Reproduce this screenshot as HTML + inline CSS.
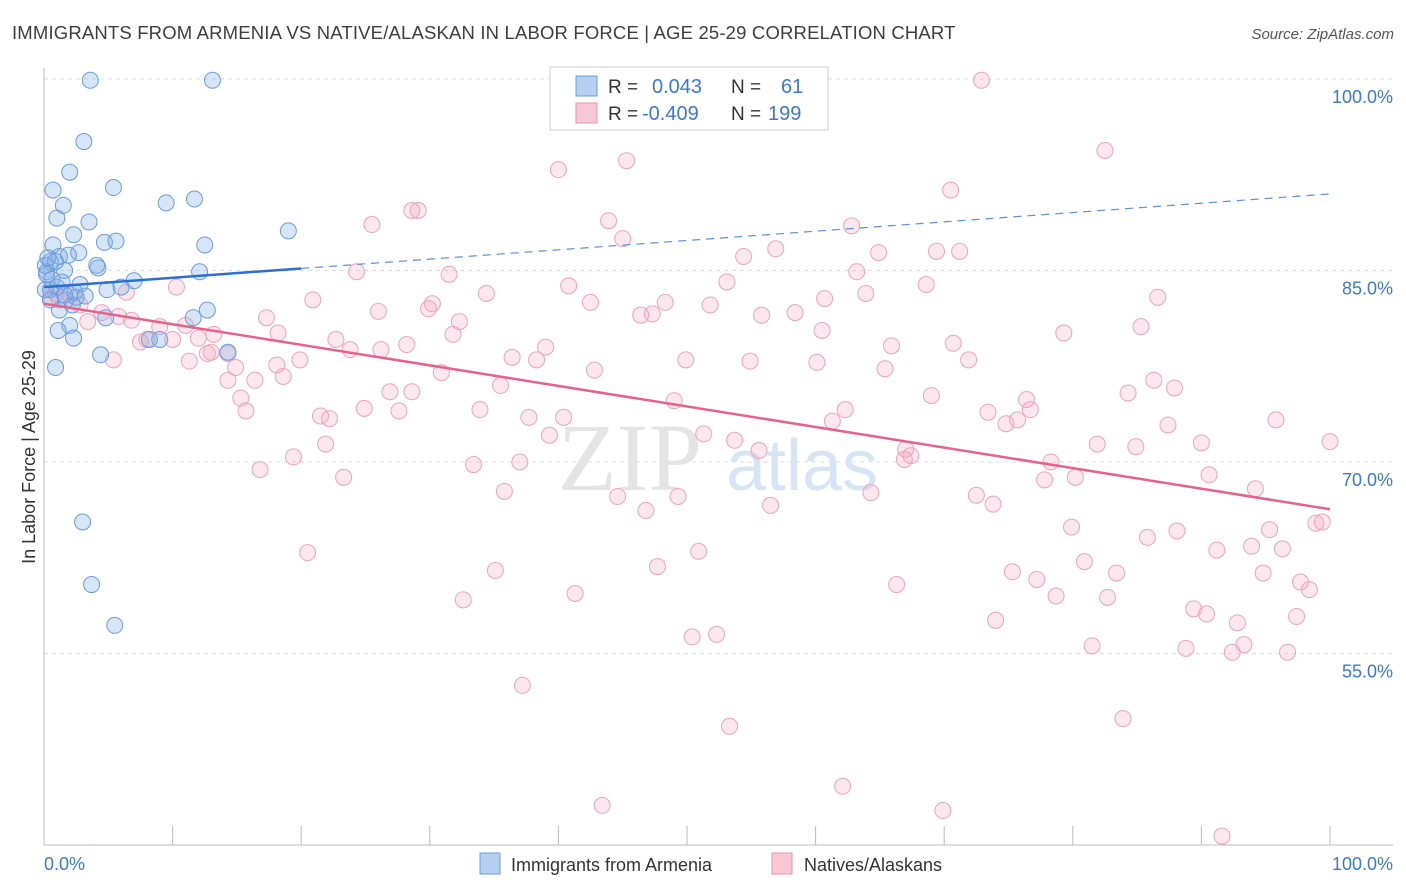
<!DOCTYPE html>
<html><head><meta charset="utf-8">
<style>
body{margin:0;background:#fff;font-family:"Liberation Sans",sans-serif;}
#wrap{position:relative;width:1406px;height:892px;overflow:hidden;}
</style></head>
<body>
<div id="wrap">
<svg id="svg" width="1406" height="892" xmlns="http://www.w3.org/2000/svg">
<text x="12" y="39" font-size="18.5" letter-spacing="0.17" fill="#3d3d3d">IMMIGRANTS FROM ARMENIA VS NATIVE/ALASKAN IN LABOR FORCE | AGE 25-29 CORRELATION CHART</text>
<text x="1394" y="39" font-size="15" fill="#555" font-style="italic" text-anchor="end">Source: ZipAtlas.com</text>
<g id="grid"></g>
<text x="630" y="490" font-family="Liberation Serif,serif" font-size="96" fill="#e4e4e4" text-anchor="middle">ZIP</text>
<text x="802" y="490" font-size="72" fill="#d6e5f6" text-anchor="middle">atlas</text>
<g id="pts"></g>
<g id="trends"></g>
<text transform="translate(35,457) rotate(-90)" font-size="18" fill="#333" text-anchor="middle">In Labor Force | Age 25-29</text>
<g>
<rect x="550" y="67" width="278" height="63" fill="#fff" stroke="#ccc"/>
<rect x="576" y="76" width="21" height="20" fill="#b7d0f2" stroke="#6a9be0"/>
<rect x="576" y="103" width="21" height="20" fill="#f8c7d6" stroke="#e890aa"/>
<text x="608" y="93" font-size="19" fill="#333">R =</text>
<text x="652" y="93" font-size="20" fill="#3a78d8">0.043</text>
<text x="731" y="93" font-size="19" fill="#333">N =</text>
<text x="781" y="93" font-size="20" fill="#3a78d8">61</text>
<text x="608" y="120" font-size="19" fill="#333">R =</text>
<text x="642" y="120" font-size="20" fill="#3a78d8">-0.409</text>
<text x="731" y="120" font-size="19" fill="#333">N =</text>
<text x="768" y="120" font-size="20" fill="#3a78d8">199</text>
</g>
<g>
<rect x="480" y="853" width="20" height="21" fill="#b7d0f2" stroke="#6a9be0"/>
<text x="511" y="871" font-size="18" fill="#333">Immigrants from Armenia</text>
<rect x="772" y="853" width="20" height="21" fill="#f8c7d6" stroke="#e890aa"/>
<text x="804" y="871" font-size="18" fill="#333">Natives/Alaskans</text>
</g>
</svg>
</div>
<script>
const yTicks=[100,85,70,55];
const yTickLabels=["100.0%","85.0%","70.0%","55.0%"];
const xTicks=[0,10,20,30,40,50,60,70,80,90,100];
const xTickLabels=["0.0%","100.0%"];
const blueX=[3.6,13.1,3.1,2.0,0.7,5.4,9.5,11.7,1.5,1.0,3.5,2.3,4.7,5.6,12.5,19.0,0.7,2.7,1.2,0.5,1.6,4.2,12.1,4.1,0.2,7.0,2.8,1.0,4.9,6.0,0.5,2.5,1.7,2.2,1.2,12.7,4.8,11.6,2.0,1.1,2.3,9.0,14.3,4.4,0.9,3.0,3.7,5.5,0.2,0.6,0.1,0.3,0.9,1.9,0.5,1.4,2.4,3.2,1.6,8.2,0.1];
const blueY=[99.9,99.9,95.1,92.7,91.3,91.5,90.3,90.6,90.1,89.1,88.8,87.8,87.2,87.3,87.0,88.1,87.0,86.4,86.1,85.7,85.0,85.2,84.9,85.4,84.9,84.2,83.9,83.7,83.5,83.7,83.5,82.9,82.7,82.3,81.9,81.9,81.3,81.3,80.7,80.3,79.7,79.6,78.6,78.4,77.4,65.3,60.4,57.2,84.7,84.3,85.4,86.0,85.7,86.2,82.7,84.1,83.3,83.0,83.1,79.6,83.5];
const pinkX=[45.8,59.0,60.3,72.9,82.5,45.3,40.0,70.5,29.1,28.6,43.9,25.5,62.8,45.0,56.9,54.4,69.4,71.2,64.9,63.2,24.3,31.5,53.1,40.8,34.4,63.9,10.3,6.4,68.6,86.6,20.9,48.3,60.7,42.5,30.2,29.9,26.0,51.8,46.4,47.3,55.8,58.4,17.3,32.3,6.8,3.4,5.8,4.5,85.3,79.3,18.2,31.8,9.0,11.0,13.2,60.5,7.5,8.0,10.0,12.0,22.7,28.2,39.0,23.8,26.2,70.7,65.9,14.3,12.7,13.0,5.4,11.3,19.9,36.4,49.9,54.9,60.1,71.9,38.3,42.8,18.1,65.4,14.9,18.6,30.9,14.3,16.4,86.3,87.9,35.5,84.3,26.9,28.6,69.0,15.3,49.0,76.4,76.7,15.7,24.9,33.9,27.6,21.5,37.7,62.3,73.4,40.4,75.7,61.3,74.8,87.4,22.2,39.3,51.3,53.7,81.9,84.9,90.0,95.8,100.0,21.9,55.6,67.0,67.4,66.9,19.4,16.8,33.4,37.0,78.3,90.6,23.3,77.8,80.2,94.2,72.5,64.3,35.8,44.6,49.3,56.5,73.8,46.8,79.9,99.4,98.9,95.3,88.1,85.8,96.3,93.9,50.9,91.2,20.5,80.9,83.4,94.8,75.3,47.7,97.7,35.1,77.2,98.4,66.3,41.3,78.7,82.7,32.6,89.4,90.4,97.4,74.0,92.8,52.3,50.4,93.3,81.5,92.4,96.7,88.8,37.2,83.9,53.3,62.1,43.4,69.9,91.6,0.5,1.2,2.0,2.8,0.9];
const pinkY=[99.9,99.9,99.9,99.9,94.4,93.6,92.9,91.3,89.7,89.7,88.9,88.6,88.5,87.5,86.7,86.1,86.5,86.5,86.4,84.9,84.9,84.7,84.1,83.8,83.2,83.2,83.7,83.3,83.9,82.9,82.7,82.5,82.8,82.5,82.4,82.0,81.8,82.3,81.5,81.6,81.5,81.7,81.3,81.0,81.1,81.0,81.4,81.7,80.6,80.1,80.1,80.0,80.6,80.7,80.0,80.3,79.4,79.6,79.6,79.7,79.6,79.2,79.0,78.8,78.8,79.3,79.1,78.5,78.5,78.6,78.0,77.9,78.0,78.2,78.0,77.9,77.8,78.0,78.0,77.2,77.6,77.3,77.4,76.7,77.0,76.4,76.4,76.4,75.8,76.0,75.4,75.5,75.5,75.2,75.0,74.8,74.9,74.1,74.0,74.2,74.1,74.0,73.6,73.5,74.1,73.9,73.5,73.3,73.2,73.0,72.9,73.4,72.1,72.2,71.7,71.4,71.2,71.5,73.3,71.6,71.4,70.9,71.0,70.5,70.2,70.4,69.4,69.8,70.0,70.0,69.0,68.8,68.6,68.8,67.9,67.4,67.6,67.7,67.3,67.3,66.6,66.7,66.2,64.9,65.3,65.2,64.7,64.6,64.1,63.2,63.4,63.0,63.1,62.9,62.2,61.3,61.3,61.4,61.8,60.6,61.5,60.8,60.0,60.4,59.7,59.5,59.4,59.2,58.5,58.1,57.9,57.6,57.4,56.5,56.3,55.7,55.6,55.1,55.1,55.4,52.5,49.9,49.3,44.6,43.1,42.7,40.7,82.9,82.7,83.1,82.3,83.2];
const blueTrend=[83.7,91.0];
const pinkTrend=[82.4,66.3];
const blueSolidEnd=20;

const NS="http://www.w3.org/2000/svg";
const X0=44,X1=1330,Y0=845,Y1=79,YMIN=40,YMAX=100;
const sx=v=>X0+(v/100)*(X1-X0);
const sy=v=>Y0-(v-YMIN)/(YMAX-YMIN)*(Y0-Y1);
function mk(tag,attrs,parent){const e=document.createElementNS(NS,tag);for(const k in attrs)e.setAttribute(k,attrs[k]);parent.appendChild(e);return e;}
const grid=document.getElementById('grid');
yTicks.forEach((t,i)=>{
  const l=mk('line',{x1:X0,x2:1393,y1:sy(t),y2:sy(t),stroke:'#ddd','stroke-dasharray':'4,4'},grid);
  
  
  const tx=mk('text',{x:1393,y:sy(t)+24,'font-size':18,fill:'#3a78d8','text-anchor':'end'},grid);
  tx.textContent=yTickLabels[i];
  
  
});
const ax=mk('line',{x1:X0,x2:X0,y1:68,y2:Y0,stroke:'#bbb'},grid);


const bx=mk('line',{x1:X0,x2:1393,y1:Y0,y2:Y0,stroke:'#bbb'},grid);


xTicks.forEach(t=>{
  const l=mk('line',{x1:sx(t),x2:sx(t),y1:826,y2:Y0,stroke:'#bbb'},grid);
  
  
});
const xl0=mk('text',{x:44,y:870,'font-size':18,fill:'#3a78d8'},grid);xl0.textContent=xTickLabels[0];


const xl1=mk('text',{x:1393,y:870,'font-size':18,fill:'#3a78d8','text-anchor':'end'},grid);xl1.textContent=xTickLabels[1];



const pts=document.getElementById('pts');
pinkX.forEach((x,i)=>{
  const c=mk('circle',{cx:sx(x),cy:sy(pinkY[i]),r:8,fill:'rgba(242,160,188,0.25)',stroke:'#eda3ba','stroke-width':1},pts);
  
  
});
blueX.forEach((x,i)=>{
  const c=mk('circle',{cx:sx(x),cy:sy(blueY[i]),r:8,fill:'rgba(130,175,232,0.33)',stroke:'#6a9be0','stroke-width':1},pts);
  
  
});
const tr=document.getElementById('trends');
const bAt=x=>blueTrend[0]+(blueTrend[1]-blueTrend[0])*x/100;
const pAt=x=>pinkTrend[0]+(pinkTrend[1]-pinkTrend[0])*x/100;
const l1=mk('line',{x1:sx(0),y1:sy(bAt(0)),x2:sx(blueSolidEnd),y2:sy(bAt(blueSolidEnd)),stroke:'#2a6fd6','stroke-width':2.5},tr);


const l2=mk('line',{x1:sx(blueSolidEnd),y1:sy(bAt(blueSolidEnd)),x2:sx(100),y2:sy(bAt(100)),stroke:'#5a8fdc','stroke-width':1.2,'stroke-dasharray':'8,6'},tr);


const l3=mk('line',{x1:sx(0),y1:sy(pAt(0)),x2:sx(100),y2:sy(pAt(100)),stroke:'#e8608c','stroke-width':2.5},tr);


</script>
</body></html>
